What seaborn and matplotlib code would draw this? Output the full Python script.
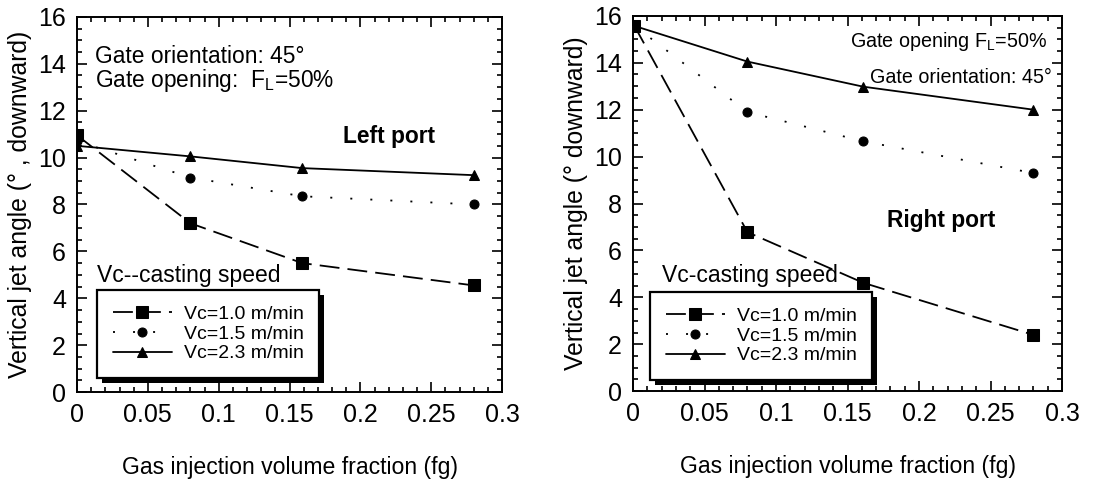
import matplotlib
matplotlib.use("Agg")
import matplotlib.pyplot as plt
from matplotlib.patches import Rectangle
from matplotlib.transforms import IdentityTransform
from matplotlib.ticker import MultipleLocator
import seaborn as sns
import numpy as np

# ---- data ----
fg_left = [0.0, 0.080, 0.159, 0.280]
left_vc10 = [10.95, 7.2, 5.5, 4.55]
left_vc15 = [10.7, 9.15, 8.35, 8.0]
left_vc23 = [10.5, 10.05, 9.55, 9.25]

fg_right = [0.001, 0.080, 0.161, 0.280]
right_vc10 = [15.57, 6.78, 4.62, 2.4]
right_vc15 = [15.57, 11.9, 10.65, 9.3]
right_vc23 = [15.57, 14.05, 12.98, 12.0]

series_labels = ["Vc=1.0 m/min", "Vc=1.5 m/min", "Vc=2.3 m/min"]
x_ticks = [0, 0.05, 0.1, 0.15, 0.2, 0.25, 0.3]
x_ticklabels = ["0", "0.05", "0.1", "0.15", "0.2", "0.25", "0.3"]
y_ticks = [0, 2, 4, 6, 8, 10, 12, 14, 16]

sns.set_style("ticks")
plt.rcParams['font.family'] = ['Liberation Sans', 'DejaVu Sans']
plt.rcParams['mathtext.fontset'] = 'custom'
plt.rcParams['mathtext.rm'] = 'Liberation Sans'
plt.rcParams['text.color'] = 'black'
plt.rcParams['axes.labelcolor'] = 'black'
plt.rcParams['xtick.color'] = 'black'
plt.rcParams['ytick.color'] = 'black'
plt.rcParams['axes.edgecolor'] = 'black'

fig = plt.figure(figsize=(11.1, 4.8), dpi=100)
axL = fig.add_axes([0.0694, 0.183, 0.3829, 0.782])
axR = fig.add_axes([0.5703, 0.185, 0.3865, 0.782])

LW = 1.3
styles = [
    dict(marker="s", markersize=8.5, linestyle=(0, (11, 4.5))),
    dict(marker="o", markersize=6.5, linestyle=(0, (1.1, 10))),
    dict(marker="^", markersize=7, linestyle="-"),
]


def draw(ax, xs, ys_list, ylabel, legend_anchor):
    for ys, lab, st in zip(ys_list, series_labels, styles):
        sns.lineplot(x=xs, y=ys, ax=ax, color="black", linewidth=LW,
                     markeredgecolor="black", markerfacecolor="black",
                     label=lab, sort=False, errorbar=None, **st)
    ax.set_xlim(0, 0.3)
    ax.set_ylim(0, 16)
    ax.set_xticks(x_ticks)
    ax.set_xticklabels(x_ticklabels)
    ax.set_yticks(y_ticks)
    ax.xaxis.set_minor_locator(MultipleLocator(0.01))
    ax.yaxis.set_minor_locator(MultipleLocator(0.5))
    ax.tick_params(which="both", direction="in", top=True, right=True,
                   color="black", width=1.2)
    ax.tick_params(which="major", length=7, labelsize=18, pad=8)
    ax.tick_params(which="minor", length=3.5)
    for sp in ax.spines.values():
        sp.set_visible(True)
        sp.set_linewidth(1.4)
        sp.set_color("black")
    ax.set_xlabel("Gas injection volume fraction (fg)", fontsize=16.6, labelpad=21)
    ax.set_ylabel(ylabel, fontsize=17.8, labelpad=4)
    leg = ax.legend(loc="upper left", bbox_to_anchor=legend_anchor,
                    fontsize=14, handlelength=3.05, handletextpad=0.6,
                    labelspacing=0.1, borderpad=0.8, borderaxespad=0,
                    frameon=True, fancybox=False, framealpha=1,
                    edgecolor="black", facecolor="white")
    leg.get_frame().set_linewidth(1.6)
    leg.set_zorder(6)
    return leg


legL = draw(axL, fg_left, [left_vc10, left_vc15, left_vc23],
            "Vertical jet angle (° , downward)", (0.047, 0.272))
legR = draw(axR, fg_right, [right_vc10, right_vc15, right_vc23],
            "Vertical jet angle (° downward)", (0.040, 0.264))

# annotations left
axL.text(0.0127, 14.04, "Gate orientation: 45°", fontsize=16.4, va="baseline", ha="left")
axL.text(0.0127, 13.01, r"Gate opening:  F$_\mathregular{L}$=50%", fontsize=16.4, va="baseline", ha="left")
axL.text(0.188, 10.62, "Left port", fontsize=16.4, fontweight="bold", va="baseline", ha="left")
axL.text(0.0141, 4.69, "Vc--casting speed", fontsize=16.5, va="baseline", ha="left")

# annotations right
axR.text(0.2895, 14.68, r"Gate opening F$_\mathregular{L}$=50%", fontsize=14.2, va="baseline", ha="right")
axR.text(0.293, 13.14, "Gate orientation: 45°", fontsize=14.2, va="baseline", ha="right")
axR.text(0.1776, 7.0, "Right port", fontsize=16.4, fontweight="bold", va="baseline", ha="left")
axR.text(0.0203, 4.65, "Vc-casting speed", fontsize=16.5, va="baseline", ha="left")

# legend shadows
fig.canvas.draw()
for ax, leg in [(axL, legL), (axR, legR)]:
    bb = leg.get_frame().get_window_extent(fig.canvas.get_renderer())
    sh = Rectangle((bb.x0 + 5, bb.y0 - 5), bb.width, bb.height,
                   transform=IdentityTransform(), facecolor="black",
                   edgecolor="none", zorder=5.5, clip_on=False)
    ax.add_artist(sh)

fig.savefig("out.png", dpi=100)
